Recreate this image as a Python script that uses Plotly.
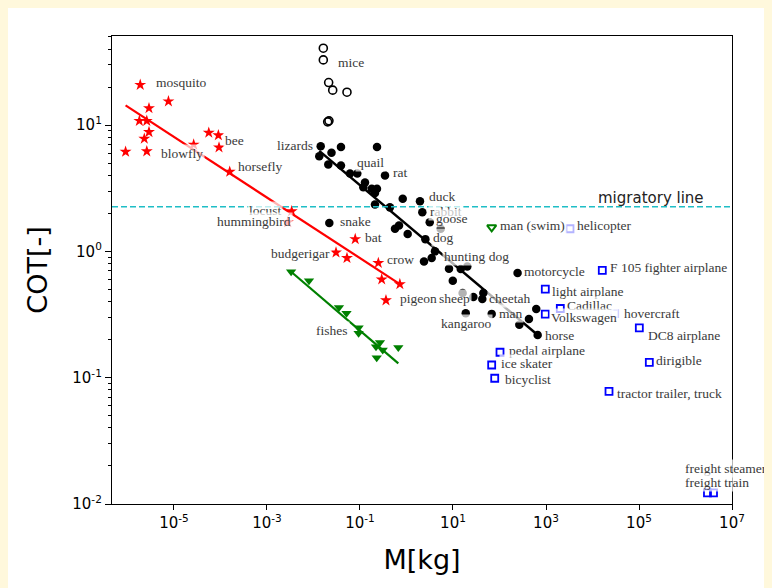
import plotly.graph_objects as go

# ---------------- data ----------------
# flying animals (red stars)
fly_mass = [1.88e-6, 7.6e-6, 2.9e-6, 1.8e-6, 2.6e-6, 2.9e-6, 2.3e-6, 9.1e-7, 2.6e-6,
            2.65e-5, 5.6e-5, 9.0e-5, 9.3e-5, 1.58e-4, 3.4e-3, 2.8e-3, 0.079, 0.0305,
            0.0525, 0.248, 0.293, 0.72, 0.362]
fly_cot = [20.8, 15.4, 13.6, 10.8, 10.8, 8.8, 7.8, 6.15, 6.2,
           7.0, 8.7, 8.3, 6.65, 4.27, 2.08, 1.7, 1.25, 0.98,
           0.886, 0.81, 0.60, 0.55, 0.41]
fly_fit_mass = [9.1e-7, 0.72]
fly_fit_cot = [14.3, 0.551]

# swimming animals (green triangles)
swim_mass = [3.3e-3, 8.0e-3, 0.0353, 0.0513, 0.0933, 0.0933, 0.221, 0.269, 0.308, 0.229, 0.667]
swim_cot = [0.69, 0.585, 0.36, 0.324, 0.249, 0.225, 0.176, 0.19, 0.166, 0.144, 0.173]
swim_fit_mass = [3.3e-3, 0.667]
swim_fit_cot = [0.69, 0.130]
man_swim_mass = [67.9]
man_swim_cot = [1.55]

# running animals (black circles)
run_mass = [0.0143, 0.0133, 0.0244, 0.039, 0.232, 0.0208, 0.039, 0.061, 0.0875, 0.345,
            0.128, 0.118, 0.179, 0.232, 0.21, 0.83, 1.95, 0.21, 0.44, 2.19,
            3.16, 5.43, 0.0219, 0.566, 0.69, 1.06, 2.55, 4.1, 3.48, 2.38,
            8.2, 14.7, 20.3, 9.9, 16.1, 27.4, 44.9, 42.7, 18.8, 67.9,
            245, 617, 430, 267, 662]
run_cot = [6.8, 5.67, 6.04, 6.69, 6.69, 4.88, 4.79, 4.14, 4.14, 3.99,
           3.51, 3.22, 3.13, 3.13, 2.9, 2.61, 2.49, 2.35, 2.23, 2.04,
           1.70, 1.51, 1.68, 1.51, 1.6, 1.37, 1.25, 1.0, 0.887, 0.833,
           0.73, 0.725, 0.76, 0.585, 0.468, 0.435, 0.468, 0.419, 0.324, 0.32,
           0.674, 0.35, 0.292, 0.262, 0.218]
run_fit_mass = [0.0133, 662]
run_fit_cot = [6.25, 0.218]

# mice (open circles)
mice_mass = [0.01626, 0.01626, 0.0212, 0.0259, 0.0525, 0.0202, 0.0215]
mice_cot = [40.6, 32.8, 21.7, 18.9, 18.2, 10.6, 10.8]

# vehicles (blue squares)
veh_mass = [16250, 966, 2032, 966, 101600, 166700, 102.6, 67.9, 78.9, 22650, 2.97e6, 4.0e6]
veh_cot = [0.707, 0.503, 0.353, 0.318, 0.248, 0.132, 0.159, 0.126, 0.099, 0.078, 0.01227, 0.01227]
veh_faint_mass = [3281, 30000]   # helicopter, hovercraft
veh_faint_cot = [1.51, 0.322]

migratory_cot = 2.26

x_tickvals = [1e-5, 1e-3, 1e-1, 1e1, 1e3, 1e5, 1e7]
x_ticktext = ["10<sup>-5</sup>", "10<sup>-3</sup>", "10<sup>-1</sup>", "10<sup>1</sup>",
              "10<sup>3</sup>", "10<sup>5</sup>", "10<sup>7</sup>"]
y_tickvals = [1e-2, 1e-1, 1e0, 1e1]
y_ticktext = ["10<sup>-2</sup>", "10<sup>-1</sup>", "10<sup>0</sup>", "10<sup>1</sup>"]
y_minor = [k * 10.0 ** e for e in (-2, -1, 0, 1) for k in range(2, 10) if k * 10.0 ** e <= 50]

# labels: (text, log10 x, log10 y, anchor)
labels = [
    ("mosquito", -5.43, 1.337, "left"), ("bee", -3.94, 0.879, "left"),
    ("blowfly", -5.33, 0.775, "left"), ("horsefly", -3.667, 0.670, "left"),
    ("lizards", -1.968, 0.841, "right"), ("locust", -2.65, 0.323, "right"),
    ("hummingbird", -2.447, 0.233, "right"), ("mice", -1.516, 1.495, "left"),
    ("quail", -1.108, 0.702, "left"), ("rat", -0.333, 0.622, "left"),
    ("duck", 0.447, 0.432, "left"), ("rabbit", 0.456, 0.317, "left"),
    ("goose", 0.585, 0.260, "left"), ("snake", -1.479, 0.233, "left"),
    ("bat", -0.929, 0.106, "left"), ("dog", 0.52, 0.106, "left"),
    ("budgerigar", -1.596, -0.013, "right"), ("crow", -0.462, -0.068, "left"),
    ("pigeon", -0.176, -0.370, "left"), ("sheep", 0.649, -0.370, "left"),
    ("cheetah", 1.738, -0.370, "left"), ("fishes", -1.215, -0.629, "right"),
    ("hunting dog", 0.77, -0.044, "left"), ("kangaroo", 0.692, -0.574, "left"),
    ("man", 1.94, -0.494, "left"), ("horse", 2.935, -0.667, "left"),
    ("motorcycle", 2.484, -0.159, "left"), ("man (swim)", 1.961, 0.204, "left"),
    ("helicopter", 3.624, 0.204, "left"), ("F 105 fighter airplane", 4.327, -0.127, "left"),
    ("light airplane", 3.092, -0.317, "left"), ("Cadillac", 3.409, -0.429, "left"),
    ("Volkswagen", 3.071, -0.524, "left"), ("hovercraft", 4.628, -0.494, "left"),
    ("DC8 airplane", 5.144, -0.669, "left"), ("dirigible", 5.323, -0.860, "left"),
    ("pedal airplane", 2.172, -0.786, "left"), ("ice skater", 1.989, -0.891, "left"),
    ("bicyclist", 2.082, -1.018, "left"), ("tractor trailer, truck", 4.49, -1.127, "left"),
    ("freight steamer", 5.955, -1.719, "left"), ("freight train", 5.955, -1.828, "left"),
]

# ---------------- figure ----------------
fig = go.Figure()

fig.add_trace(go.Scatter(x=fly_fit_mass, y=fly_fit_cot, mode="lines",
                         line=dict(color="red", width=2.2), showlegend=False))
fig.add_trace(go.Scatter(x=fly_mass, y=fly_cot, mode="markers",
                         marker=dict(symbol="star", size=9, color="red"), showlegend=False))
fig.add_trace(go.Scatter(x=run_fit_mass, y=run_fit_cot, mode="lines",
                         line=dict(color="black", width=2.5), showlegend=False))
fig.add_trace(go.Scatter(x=run_mass, y=run_cot, mode="markers",
                         marker=dict(symbol="circle", size=8.5, color="black"), showlegend=False))
fig.add_trace(go.Scatter(x=mice_mass, y=mice_cot, mode="markers",
                         marker=dict(symbol="circle-open", size=8, color="black",
                                     line=dict(width=1.6)), showlegend=False))
fig.add_trace(go.Scatter(x=swim_fit_mass, y=swim_fit_cot, mode="lines",
                         line=dict(color="green", width=2.2), showlegend=False))
fig.add_trace(go.Scatter(x=swim_mass, y=swim_cot, mode="markers",
                         marker=dict(symbol="triangle-down", size=9, color="green"), showlegend=False))
fig.add_trace(go.Scatter(x=man_swim_mass, y=man_swim_cot, mode="markers",
                         marker=dict(symbol="triangle-down-open", size=8, color="green",
                                     line=dict(width=2)), showlegend=False))
fig.add_trace(go.Scatter(x=veh_mass, y=veh_cot, mode="markers",
                         marker=dict(symbol="square-open", size=7, color="blue",
                                     line=dict(width=1.8)), showlegend=False))
fig.add_trace(go.Scatter(x=veh_faint_mass, y=veh_faint_cot, mode="markers",
                         marker=dict(symbol="square-open", size=7, color="#b4b4ff",
                                     line=dict(width=1.8)), showlegend=False))

# migratory line
fig.add_shape(type="line", xref="paper", x0=0, x1=1, yref="y",
              y0=migratory_cot, y1=migratory_cot,
              line=dict(color="#1fbec6", width=1.5, dash="6px,3px"))
fig.add_annotation(text="migratory line", xref="paper", x=0.958, yref="y",
                   y=0.355 + 0.07, xanchor="right", yanchor="middle", showarrow=False,
                   font=dict(family="DejaVu Sans", size=15, color="#222222"))

for txt, lx, ly, anc in labels:
    fig.add_annotation(text=txt, x=lx, y=ly, xref="x", yref="y", showarrow=False,
                       xanchor=anc, yanchor="middle",
                       font=dict(family="Liberation Serif", size=13.5, color="#3a3a3a"),
                       bgcolor="rgba(255,255,255,0.7)", borderpad=1)

axis_font = dict(family="DejaVu Sans", size=15, color="black")
fig.update_layout(
    width=772, height=588,
    margin=dict(l=104, r=48, t=28, b=92),
    paper_bgcolor="white", plot_bgcolor="white",
    xaxis=dict(type="log", range=[-6.333, 7], showgrid=False, zeroline=False,
               showline=True, linecolor="black", linewidth=1.3, mirror=True,
               ticks="outside", ticklen=5, tickcolor="black", tickwidth=1.2,
               tickmode="array", tickvals=x_tickvals, ticktext=x_ticktext,
               tickfont=axis_font,
               title=dict(text="M[kg]", font=dict(family="DejaVu Sans", size=27, color="black"),
                          standoff=18)),
    yaxis=dict(type="log", range=[-2, 1.705], showgrid=False, zeroline=False,
               showline=True, linecolor="black", linewidth=1.3, mirror=True,
               ticks="outside", ticklen=6, tickcolor="black", tickwidth=1.2,
               tickmode="array", tickvals=y_tickvals, ticktext=y_ticktext,
               tickfont=axis_font,
               minor=dict(ticks="outside", ticklen=3, tickcolor="black", tickwidth=1,
                          tickmode="array", tickvals=y_minor, showgrid=False),
               title=dict(text="COT[-]", font=dict(family="DejaVu Sans", size=27, color="black"),
                          standoff=16)),
)

fig.write_html("out.html", post_script="document.body.style.background='#fff8dc';")
